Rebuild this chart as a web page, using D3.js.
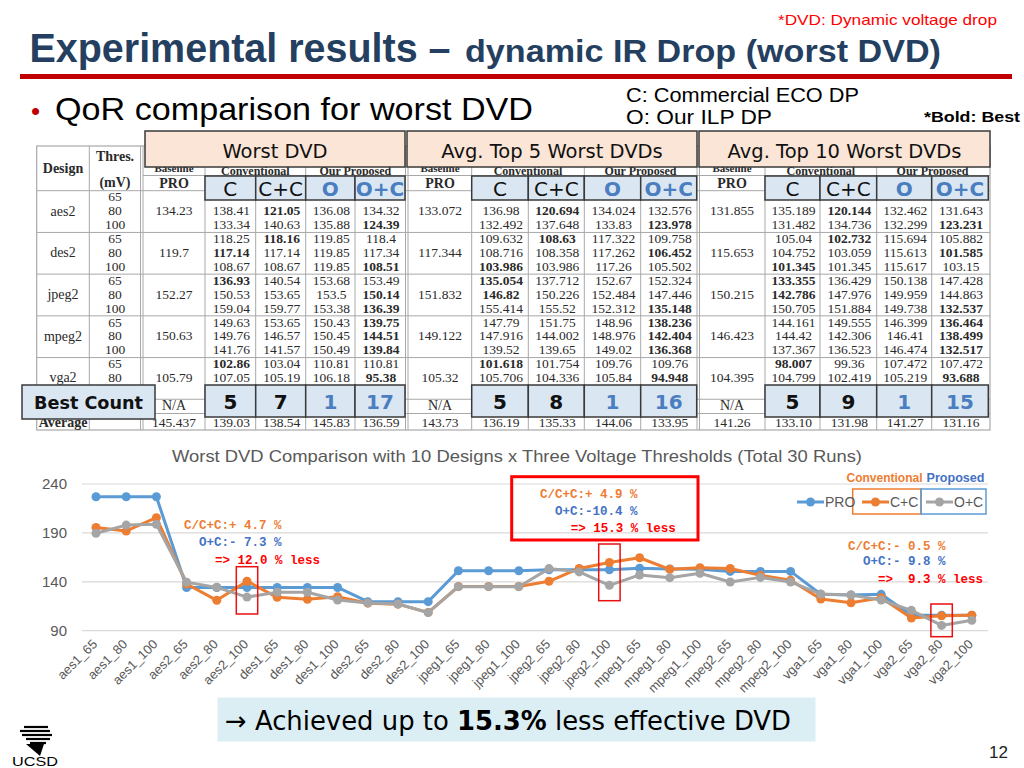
<!DOCTYPE html>
<html><head><meta charset="utf-8">
<script src="https://cdn.jsdelivr.net/npm/d3@7"></script>
<style>body{margin:0;background:#fff;} svg{display:block;}</style>
</head><body>
<script>
// ---------------- DATA ----------------
const runLabels = ["aes1_65","aes1_80","aes1_100","aes2_65","aes2_80","aes2_100","des1_65","des1_80","des1_100",
  "des2_65","des2_80","des2_100","jpeg1_65","jpeg1_80","jpeg1_100","jpeg2_65","jpeg2_80","jpeg2_100",
  "mpeg1_65","mpeg1_80","mpeg1_100","mpeg2_65","mpeg2_80","mpeg2_100","vga1_65","vga1_80","vga1_100",
  "vga2_65","vga2_80","vga2_100"];
const proValues = [227,227,227,134.23,134.23,134.23,134.2,134.2,134.2,119.7,119.7,119.7,151.3,151.3,151.3,
  152.27,152.27,152.27,153.8,153.2,152.8,150.63,150.63,150.63,127.2,126.6,127.2,105.79,105.79,105.79];
const ccValues = [195.5,192,205.5,137.7,121.05,140.63,124.1,122.1,124.7,118.16,117.14,108.67,135.2,135.2,135.2,
  140.54,153.65,159.77,164.6,152.8,154.4,153.65,146.57,141.57,122.4,118.6,123.7,103.04,105.19,105.8];
const ocValues = [189.6,198,198.8,139.5,134.32,124.39,129.3,129.3,121.4,118.4,117.34,108.51,135,135,135,
  153.49,150.14,136.39,147,144.2,148.7,139.75,144.51,139.84,127.5,126.5,121.4,110.81,95.38,100.6];
const yTicks = [90,140,190,240];
const seriesNames = ["PRO","C+C","O+C"];

const tableDesigns = ["aes2","des2","jpeg2","mpeg2","vga2"];
const tableThresholds = ["65","80","100"];
const sectionTitles = ["Worst DVD","Avg. Top 5 Worst DVDs","Avg. Top 10 Worst DVDs"];
const methodLabels = ["C","C+C","O","O+C"];

const baselineWorst = ["134.23","119.7","152.27","150.63","105.79"];
const baselineTop5 = ["133.072","117.344","151.832","149.122","105.32"];
const baselineTop10 = ["131.855","115.653","150.215","146.423","104.395"];

// rows hidden behind the overlay boxes in the source (aes2 65, vga2 100) are null
const worstRows = [
  null,
  ["138.41","121.05","136.08","134.32"],
  ["133.34","140.63","135.88","124.39"],
  ["118.25","118.16","119.85","118.4"],
  ["117.14","117.14","119.85","117.34"],
  ["108.67","108.67","119.85","108.51"],
  ["136.93","140.54","153.68","153.49"],
  ["150.53","153.65","153.5","150.14"],
  ["159.04","159.77","153.38","136.39"],
  ["149.63","153.65","150.43","139.75"],
  ["149.76","146.57","150.45","144.51"],
  ["141.76","141.57","150.49","139.84"],
  ["102.86","103.04","110.81","110.81"],
  ["107.05","105.19","106.18","95.38"],
  null];
const worstBest = [-1,1,3,1,0,3,0,3,3,3,3,3,0,3,-1];

const top5Rows = [
  null,
  ["136.98","120.694","134.024","132.576"],
  ["132.492","137.648","133.83","123.978"],
  ["109.632","108.63","117.322","109.758"],
  ["108.716","108.358","117.262","106.452"],
  ["103.986","103.986","117.26","105.502"],
  ["135.054","137.712","152.67","152.324"],
  ["146.82","150.226","152.484","147.446"],
  ["155.414","155.52","152.312","135.148"],
  ["147.79","151.75","148.96","138.236"],
  ["147.916","144.002","148.976","142.404"],
  ["139.52","139.65","149.02","136.368"],
  ["101.618","101.754","109.76","109.76"],
  ["105.706","104.336","105.84","94.948"],
  null];
const top5Best = [-1,1,3,1,3,0,0,0,3,3,3,3,0,3,-1];

const top10Rows = [
  null,
  ["135.189","120.144","132.462","131.643"],
  ["131.482","134.736","132.299","123.231"],
  ["105.04","102.732","115.694","105.882"],
  ["104.752","103.059","115.613","101.585"],
  ["101.345","101.345","115.617","103.15"],
  ["133.355","136.429","150.138","147.428"],
  ["142.786","147.976","149.959","144.863"],
  ["150.705","151.884","149.738","132.537"],
  ["144.161","149.555","146.399","136.464"],
  ["144.42","142.306","146.41","138.499"],
  ["137.367","136.523","146.474","132.517"],
  ["98.007","99.36","107.472","107.472"],
  ["104.799","102.419","105.219","93.688"],
  null];
const top10Best = [-1,1,3,1,3,0,0,0,3,3,3,3,0,3,-1];

const averageWorst = ["145.437","139.03","138.54","145.83","136.59"];
const averageTop5 = ["143.73","136.19","135.33","144.06","133.95"];
const averageTop10 = ["141.26","133.10","131.98","141.27","131.16"];
const bestCountWorst = [5,7,1,17];
const bestCountTop5 = [5,8,1,16];
const bestCountTop10 = [5,9,1,15];

const annotations = [
  {lines:["C/C+C:+ 4.7 %","O+C:- 7.3 %","=> 12.0 % less"], target:"aes2_100"},
  {lines:["C/C+C:+ 4.9 %","O+C:-10.4 %","=> 15.3 % less"], target:"jpeg2_100"},
  {lines:["C/C+C:- 0.5 %","O+C:- 9.8 %","=>  9.3 % less"], target:"vga2_80"}];

// ---------------- HELPERS ----------------
const SANS = "'Liberation Sans', Arial, sans-serif";
const SERIF = "'Liberation Serif', 'Times New Roman', serif";
const DJ = "'DejaVu Sans', Verdana, sans-serif";
const MONO = "'Liberation Mono', 'DejaVu Sans Mono', monospace";
const TITLE = "#243F60";
const BLUE_T = "#4A7EC0";
const ORANGE = "#ED7D31", BLUE = "#5B9BD5", GRAY = "#A5A5A5";

const svg = d3.select("body").append("svg").attr("width",1024).attr("height",768);

function addText(g, x, y, s, o={}) {
  const t = g.append("text").attr("x",x).attr("y",y).text(s)
    .attr("font-family", o.family || SANS)
    .attr("font-size", o.size || 14)
    .attr("fill", o.fill || "#000");
  if (o.weight) t.attr("font-weight", o.weight);
  if (o.anchor) t.attr("text-anchor", o.anchor);
  if (o.dy) t.attr("dy", o.dy);
  if (o.len) t.attr("textLength", o.len).attr("lengthAdjust","spacingAndGlyphs");
  if (o.pre) t.style("white-space","pre");
  return t;
}

// ---------------- SLIDE HEADER ----------------
addText(svg, 997, 25, "*DVD: Dynamic voltage drop", {size:15, fill:"#FF0000", anchor:"end", len:219});
addText(svg, 29.5, 61.7, "Experimental results –", {size:40, weight:"bold", fill:TITLE, len:421});
addText(svg, 465, 61.7, "dynamic IR Drop (worst DVD)", {size:31, weight:"bold", fill:TITLE, len:476});
svg.append("rect").attr("x",20).attr("y",74).attr("width",992).attr("height",5).attr("fill","#C00000");
addText(svg, 31, 120, "•", {size:26, fill:"#C00000"});
addText(svg, 55, 120, "QoR comparison for worst DVD", {size:32, len:478});
addText(svg, 626, 102, "C: Commercial ECO DP", {size:20, len:233});
addText(svg, 626, 124, "O: Our ILP DP", {size:20, len:146});
addText(svg, 1020, 122, "*Bold: Best", {size:15, weight:"bold", anchor:"end", len:96});

// ---------------- TABLE ----------------
const tg = svg.append("g");
const rowY = d3.scaleLinear().domain([0,14]).range([196.7,391.3]);
const sections = [
  {title:sectionTitles[0], box:[145,405], baseX:174, edges:[205,255.7,305.7,355,405],
   baseline:baselineWorst, rows:worstRows, best:worstBest, avg:averageWorst, counts:bestCountWorst},
  {title:sectionTitles[1], box:[407,697], baseX:440, edges:[471.7,528.3,584.3,640.7,696.7],
   baseline:baselineTop5, rows:top5Rows, best:top5Best, avg:averageTop5, counts:bestCountTop5},
  {title:sectionTitles[2], box:[699,990], baseX:732, edges:[765,820,876.7,931.7,988.3],
   baseline:baselineTop10, rows:top10Rows, best:top10Best, avg:averageTop10, counts:bestCountTop10}];
const LINE = "#a8a8a8";
const tTop = 146, tBot = 430, tLeft = 36.7, tRight = 990;
tg.append("rect").attr("x",tLeft).attr("y",tTop).attr("width",tRight-tLeft).attr("height",tBot-tTop)
  .attr("fill","#fff").attr("stroke",LINE).attr("stroke-width",1.2);
const fullV = [89.3,140.5,143,205,405.5,408,471.7,697,699.5,765];
fullV.forEach(v => tg.append("line").attr("x1",v).attr("x2",v).attr("y1",tTop).attr("y2",tBot).attr("stroke",LINE));
sections.forEach(s => {
  [1,3].forEach(k => tg.append("line").attr("x1",s.edges[k]).attr("x2",s.edges[k]).attr("y1",175.5).attr("y2",tBot).attr("stroke",LINE));
  tg.append("line").attr("x1",s.edges[2]).attr("x2",s.edges[2]).attr("y1",tTop).attr("y2",tBot).attr("stroke",LINE);
});
tg.append("line").attr("x1",143).attr("x2",tRight).attr("y1",175.5).attr("y2",175.5).attr("stroke",LINE);
tg.append("line").attr("x1",tLeft).attr("x2",tRight).attr("y1",190.7).attr("y2",190.7).attr("stroke",LINE);
[2.5,5.5,8.5,11.5,14.5].forEach(r => tg.append("line").attr("x1",tLeft).attr("x2",tRight)
  .attr("y1",rowY(r)+1).attr("y2",rowY(r)+1).attr("stroke",LINE));
tg.append("line").attr("x1",tLeft).attr("x2",tRight).attr("y1",413.5).attr("y2",413.5).attr("stroke",LINE);

const TC = "#2a2a2a";
addText(tg, 63, 168, "Design", {family:SERIF, size:14, weight:"bold", anchor:"middle", dy:"0.35em", fill:TC});
addText(tg, 115, 156, "Thres.", {family:SERIF, size:14, weight:"bold", anchor:"middle", dy:"0.35em", fill:TC});
addText(tg, 115, 182.5, "(mV)", {family:SERIF, size:14, weight:"bold", anchor:"middle", dy:"0.35em", fill:TC});
tableDesigns.forEach((d,g) => {
  addText(tg, 63, rowY(g*3+1), d, {family:SERIF, size:14, anchor:"middle", dy:"0.35em", fill:TC});
  tableThresholds.forEach((th,k) => {
    if (g*3+k < 14) addText(tg, 115, rowY(g*3+k), th, {family:SERIF, size:13.5, anchor:"middle", dy:"0.35em", fill:TC});
  });
});
addText(tg, 63, 422.5, "Average", {family:SERIF, size:14, weight:"bold", anchor:"middle", dy:"0.35em", fill:TC});

sections.forEach(s => {
  const cx = j => (s.edges[j]+s.edges[j+1])/2;
  addText(tg, s.baseX, 168.5, "Baseline", {family:SERIF, size:11, weight:"bold", anchor:"middle", dy:"0.35em", fill:TC});
  addText(tg, (s.edges[0]+s.edges[2])/2, 170.5, "Conventional", {family:SERIF, size:12, weight:"bold", anchor:"middle", dy:"0.35em", fill:TC});
  addText(tg, (s.edges[2]+s.edges[4])/2, 170.5, "Our Proposed", {family:SERIF, size:12, weight:"bold", anchor:"middle", dy:"0.35em", fill:TC});
  addText(tg, s.baseX, 183.5, "PRO", {family:SERIF, size:14, weight:"bold", anchor:"middle", dy:"0.35em", fill:TC});
  s.baseline.forEach((b,g) => addText(tg, s.baseX, rowY(g*3+1), b, {family:SERIF, size:13.5, anchor:"middle", dy:"0.35em", fill:TC}));
  s.rows.forEach((row,i) => { if (!row) return; row.forEach((v,j) =>
    addText(tg, cx(j)+1, rowY(i), v, {family:SERIF, size:13.5, anchor:"middle", dy:"0.35em", fill:TC,
      weight: s.best[i]===j ? "bold" : null})); });
  addText(tg, s.baseX, 405.2, "N/A", {family:SERIF, size:14, anchor:"middle", dy:"0.35em", fill:TC});
  addText(tg, s.baseX, 422.5, s.avg[0], {family:SERIF, size:13.5, anchor:"middle", dy:"0.35em", fill:TC});
  s.avg.slice(1).forEach((v,j) => addText(tg, cx(j)+1, 422.5, v, {family:SERIF, size:13.5, anchor:"middle", dy:"0.35em", fill:TC}));
});

// overlay boxes
const PEACH = "#FBE5D6", LBLUE = "#DAE7F3", BOX = "#3a3a3a";
sections.forEach(s => {
  svg.append("rect").attr("x",s.box[0]).attr("y",131).attr("width",s.box[1]-s.box[0]).attr("height",36)
    .attr("fill",PEACH).attr("stroke",BOX).attr("stroke-width",1.5);
  addText(svg, (s.box[0]+s.box[1])/2, 151.5, s.title, {family:DJ, size:19.5, anchor:"middle", dy:"0.35em", fill:"#111"});
  methodLabels.forEach((m,j) => {
    const x0 = s.edges[j], x1 = s.edges[j+1];
    svg.append("rect").attr("x",x0).attr("y",176).attr("width",x1-x0).attr("height",24)
      .attr("fill",LBLUE).attr("stroke",BOX).attr("stroke-width",1.5);
    const ours = m.startsWith("O");
    addText(svg, (x0+x1)/2, 188.5, m, {family:DJ, size:20, anchor:"middle", dy:"0.35em",
      fill: ours ? BLUE_T : "#111", weight: ours ? "bold" : null});
    svg.append("rect").attr("x",x0).attr("y",385).attr("width",x1-x0).attr("height",32)
      .attr("fill",LBLUE).attr("stroke",BOX).attr("stroke-width",1.5);
    addText(svg, (x0+x1)/2, 401.5, String(s.counts[j]), {family:DJ, size:20, anchor:"middle", dy:"0.35em",
      weight:"bold", fill: ours ? BLUE_T : "#111"});
  });
});
svg.append("rect").attr("x",22).attr("y",385).attr("width",133).attr("height",34)
  .attr("fill",LBLUE).attr("stroke",BOX).attr("stroke-width",1.5);
addText(svg, 88.5, 402.5, "Best Count", {family:DJ, size:18, weight:"bold", anchor:"middle", dy:"0.35em", len:109, fill:"#111"});

// ---------------- LINE CHART ----------------
const cg = svg.append("g");
const x = d3.scalePoint().domain(runLabels).range([96, 971.8]);
const y = d3.scaleLinear().domain([90,240]).range([630.7, 484]);
addText(cg, 172, 462, "Worst DVD Comparison with 10 Designs x Three Voltage Thresholds (Total 30 Runs)",
  {size:17, fill:"#595959", len:690});
yTicks.forEach(t => {
  cg.append("line").attr("x1",82).attr("x2",988).attr("y1",y(t)).attr("y2",y(t))
    .attr("stroke","#D9D9D9").attr("stroke-width",1.2);
  addText(cg, 67, y(t), String(t), {size:15, fill:"#595959", anchor:"end", dy:"0.35em"});
});
runLabels.forEach(l => {
  const px = x(l) + 2, py = 645;
  cg.append("text").attr("transform",`translate(${px},${py}) rotate(-45)`)
    .attr("text-anchor","end").attr("font-family",SANS).attr("font-size",13).attr("fill","#595959").text(l);
});
const series = [{name:seriesNames[0], vals:proValues, color:BLUE},
                {name:seriesNames[1], vals:ccValues, color:ORANGE},
                {name:seriesNames[2], vals:ocValues, color:GRAY}];
const line = d3.line().x((d,i) => x(runLabels[i])).y(d => y(d));
series.forEach(s => {
  cg.append("path").attr("d", line(s.vals)).attr("fill","none").attr("stroke",s.color)
    .attr("stroke-width",3).attr("stroke-linejoin","round");
  cg.selectAll(null).data(s.vals).enter().append("circle")
    .attr("cx",(d,i) => x(runLabels[i])).attr("cy",d => y(d)).attr("r",4.5).attr("fill",s.color);
});

// legend
addText(cg, 846.5, 481.5, "Conventional", {size:13.5, weight:"bold", fill:ORANGE, len:76});
addText(cg, 926.5, 481.5, "Proposed", {size:13.5, weight:"bold", fill:"#4472C4", len:58});
cg.append("rect").attr("x",852.7).attr("y",489).attr("width",68.3).attr("height",25)
  .attr("fill","none").attr("stroke",ORANGE).attr("stroke-width",1.5);
cg.append("rect").attr("x",921).attr("y",489).attr("width",65).attr("height",25)
  .attr("fill","none").attr("stroke",BLUE).attr("stroke-width",1.5);
const legendPos = [797, 862, 926];
series.forEach((s,i) => {
  const lx = legendPos[i], ly = 502;
  cg.append("line").attr("x1",lx).attr("x2",lx+27).attr("y1",ly).attr("y2",ly).attr("stroke",s.color).attr("stroke-width",3);
  cg.append("circle").attr("cx",lx+13.5).attr("cy",ly).attr("r",4.5).attr("fill",s.color);
  addText(cg, lx+28, ly, s.name, {size:14, fill:"#595959", dy:"0.35em"});
});

// annotations
const annoColors = [ORANGE, "#4472C4", "#FF0000"];
const annoStart = [[184,199,215],[540,555,570.7],[848,863,878]];
const annoY = [[525,541.7,559.3],[494,510.7,527.3],[546,561,578.3]];
annotations.forEach((a,k) => {
  a.lines.forEach((t,j) => addText(cg, annoStart[k][j], annoY[k][j], t,
    {family:MONO, size:12.5, weight:"bold", fill:annoColors[j], dy:"0.35em", pre:true}));
});
const smallBoxY = [[566.7,614],[544,600.7],[604,636.7]];
annotations.forEach((a,k) => {
  const cx = x(a.target);
  cg.append("rect").attr("x",cx-10.7).attr("y",smallBoxY[k][0]).attr("width",21.4)
    .attr("height",smallBoxY[k][1]-smallBoxY[k][0]).attr("fill","none").attr("stroke","#E81010").attr("stroke-width",1.5);
});
cg.append("rect").attr("x",511.7).attr("y",476.7).attr("width",186.3).attr("height",63.3)
  .attr("fill","none").attr("stroke","#FF0000").attr("stroke-width",3);

// ---------------- BOTTOM ----------------
svg.append("rect").attr("x",217.5).attr("y",697.5).attr("width",598).attr("height",44).attr("fill","#DBEEF4");
const bt = svg.append("text").attr("x",225).attr("y",729.5).attr("font-family",DJ).attr("font-size",26)
  .attr("fill","#000").attr("textLength",566).attr("lengthAdjust","spacingAndGlyphs");
bt.append("tspan").text("→ Achieved up to ");
bt.append("tspan").attr("font-weight","bold").text("15.3%");
bt.append("tspan").text(" less effective DVD");
addText(svg, 1008, 758, "12", {size:17, anchor:"end", fill:"#222"});
// UCSD logo
const logo = svg.append("g");
[[24,48,727],[20,50,731],[22,52,735],[26,50,739],[30,46,743]].forEach(r =>
  logo.append("line").attr("x1",r[0]).attr("x2",r[1]).attr("y1",r[2]).attr("y2",r[2]).attr("stroke","#000").attr("stroke-width",2.2));
logo.append("path").attr("d","M26,744 L40,756 L44,744 Z").attr("fill","#000");
addText(svg, 12, 766, "UCSD", {size:13, len:46, fill:"#000"});
</script>
</body></html>
